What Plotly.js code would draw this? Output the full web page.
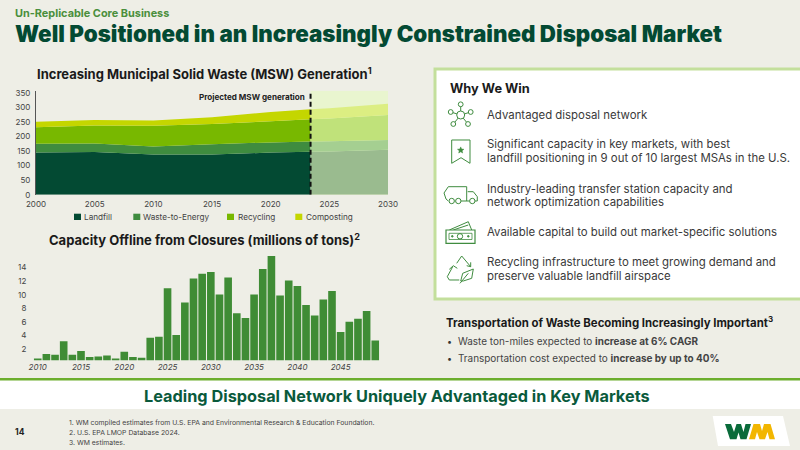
<!DOCTYPE html>
<html><head><meta charset="utf-8">
<script src="https://cdn.plot.ly/plotly-3.0.1.min.js"></script>
<style>html,body{margin:0;padding:0;background:#eeeee6;overflow:hidden}#c{width:800px;height:450px}</style>
</head><body><div id="c"></div>
<script>
const seriesNames=['Landfill','Waste-to-Energy','Recycling','Composting'];
const histYears=[2000,2005,2010,2015,2020,2023.4];
const histLandfill=[145,147,138,138,145,148];
const histEnergy=[30,29,28,36,35,35];
const histRecycling=[57,62,71,69,73,77];
const histComposting=[19,19,18,24,32,34];
const projYears=[2023.4,2025,2030];
const projLandfill=[148,149,155];
const projEnergy=[35,35,33];
const projRecycling=[77,78,86];
const projComposting=[34,36,39];
const closureYears=[2010,2011,2012,2013,2014,2015,2016,2017,2018,2019,2020,2021,2022,2023,2024,2025,2026,2027,2028,2029,2030,2031,2032,2033,2034,2035,2036,2037,2038,2039,2040,2041,2042,2043,2044,2045,2046,2047,2048,2049];
const closureValues=[0.3,0.95,0.85,2.85,0.85,1.4,0.5,0.6,0.75,0.3,1.3,0.5,0.4,3.35,3.5,10.65,3.75,8.55,12.1,12.8,13.05,9.75,12.25,6.95,6.25,9.75,13.5,15.4,9.6,11.8,11,8.2,6.65,9,10.25,4.2,5.7,6.15,7.3,2.95];

const W=800,H=450,F='Inter, sans-serif';
const histColors=['#034a33','#3f8c3f','#78b800','#c4d600'];
const projColors=['#9abb8f','#a5cf91','#c0e27a','#dcee82'];
const GREEN='#3f8c3f';
const px=x=>x/W, py=y=>1-y/H;
const shapes=[],annotations=[];
function rect(x0,y0,x1,y1,fill,line,lw){shapes.push({type:'rect',xref:'paper',yref:'paper',layer:'below',x0:px(x0),x1:px(x1),y0:py(y0),y1:py(y1),fillcolor:fill||'rgba(0,0,0,0)',line:{color:line||'rgba(0,0,0,0)',width:lw||0}});}
function poly(pts,close,color,fill,lw){let d=pts.map((p,i)=>(i?'L':'M')+px(p[0]).toFixed(5)+' '+py(p[1]).toFixed(5)).join(' ')+(close?' Z':'');shapes.push({type:'path',xref:'paper',yref:'paper',path:d,fillcolor:fill||'rgba(0,0,0,0)',line:{color:color||GREEN,width:lw===undefined?1:lw}});}
function circ(cx,cy,r,fill){shapes.push({type:'circle',xref:'paper',yref:'paper',x0:px(cx-r),x1:px(cx+r),y0:py(cy+r),y1:py(cy-r),fillcolor:fill||'rgba(0,0,0,0)',line:{color:GREEN,width:1}});}
function text(x,y,t,size,color,o){o=o||{};annotations.push({xref:'paper',yref:'paper',x:px(x),y:py(y),text:t,showarrow:false,xanchor:o.anchor||'left',yanchor:'middle',borderpad:0,font:{family:o.family||F,size:size,color:color,weight:o.weight||400,style:o.style||'normal'}});}
// zone panels
rect(-5,0,805,450,'#eeeee6');
rect(435,69,806,299,'#ffffff','#c3df9c',3);
rect(-5,380,805,409,'#ffffff');
shapes.push({type:'line',xref:'paper',yref:'paper',layer:'below',x0:0,x1:1,y0:py(379.3),y1:py(379.3),line:{color:'#6cae2d',width:2.5}});
// header
text(13.5,13,'Un-Replicable Core Business',10.9,'#4a8f3c',{weight:700});
text(13.5,33,'Well Positioned in an Increasingly Constrained Disposal Market',22.35,'#034a33',{weight:900});
text(35.5,74,'Increasing Municipal Solid Waste (MSW) Generation<sup>1</sup>',13,'#1a1a1a',{weight:700});
text(47.5,239,'Capacity Offline from Closures (millions of tons)<sup>2</sup>',13,'#1a1a1a',{weight:700});
text(306,97,'Projected MSW generation',8.1,'#222',{weight:700,anchor:'right'});
// legend
[[74,83.3],[133.3,142.3],[227,237],[295.3,305]].forEach((p,i)=>{rect(p[0],213.7,p[0]+7,220,histColors[i]);text(p[1],217,seriesNames[i],8.2,'#444');});
// why we win
text(448.5,88,'Why We Win',12.8,'#1a1a1a',{weight:700});
[[115,'Advantaged disposal network'],[144,'Significant capacity in key markets, with best'],[158,'landfill positioning in 9 out of 10 largest MSAs in the U.S.'],[188.5,'Industry-leading transfer station capacity and'],[202.5,'network optimization capabilities'],[232,'Available capital to build out market-specific solutions'],[262,'Recycling infrastructure to meet growing demand and'],[276,'preserve valuable landfill airspace']].forEach(l=>text(486.2,l[0],l[1],11.4,'#3a3a3a'));
// transportation
text(445,321.7,'Transportation of Waste Becoming Increasingly Important<sup>3</sup>',11.4,'#1a1a1a',{weight:700});
text(445.5,341,'•',9,'#333');text(445.5,358,'•',9,'#333');
text(456.5,341,'Waste ton-miles expected to <b>increase at 6% CAGR</b>',9.95,'#444');
text(456.5,358,'Transportation cost expected to <b>increase by up to 40%</b>',9.95,'#444');
// banner and footer
text(396.5,395.7,'Leading Disposal Network Uniquely Advantaged in Key Markets',16.3,'#0a5a3c',{weight:700,anchor:'center'});
text(14,432,'14',8.5,'#222',{weight:700});
text(67.5,422,'1. WM compiled estimates from U.S. EPA and Environmental Research &amp; Education Foundation.',6.85,'#444');
text(67.5,432.5,'2. U.S. EPA LMOP Database 2024.',6.85,'#444');
text(67.5,442,'3. WM estimates.',6.85,'#444');
// logo
poly([[712.7,416],[783,416],[790,446],[718,446]],true,'#fff','#fff',0);
poly([[725,424],[731,424],[734,432],[736.5,424],[741,424],[743.5,432],[745.5,424],[751,424],[746.5,439.3],[740.5,439.3],[738.5,432.5],[736.5,439.3],[730,439.3]],true,'#0a6b3a','#0a6b3a',0);
poly([[749,439.3],[753.5,424],[760,424],[762,431],[764,424],[770.5,424],[775,439.3],[769.5,439.3],[767.5,432],[765,439.3],[759.5,439.3],[757,432],[755,439.3]],true,'#f2b600','#f2b600',0);
// icons
[[460.7,104.3],[450.7,112],[470.7,112],[453.3,124],[468,124]].forEach(s=>{poly([[460.7,115],s],false);circ(s[0],s[1],2.4,'#fff');});
circ(460.7,115,4,'#fff');
poly([[451.7,140],[470,140],[470,163.3],[461,157.7],[451.7,163.3]],true);
(function(){let p=[];for(let i=0;i<10;i++){let r=i%2?1.5:3.4,a=-Math.PI/2+i*Math.PI/5;p.push([460.7+r*Math.cos(a),150.3+r*Math.sin(a)]);}poly(p,true,GREEN,GREEN,0.5);})();
poly([[448.3,201],[446,199],[444,193],[448.3,186.7],[466.7,186.7],[466.7,201]],false);
poly([[467.7,191.7],[473.3,191.7],[477.3,196.7],[477.3,201],[475,201]],false);
poly([[461,201],[469.6,201]],false);
circ(451.7,201,2.7,'#fff');circ(458.3,201,2.7,'#fff');circ(472.3,201,2.7,'#fff');
poly([[449.3,230],[468.3,221.7],[471.7,230]],false);
poly([[453.3,230],[468.3,225]],false);
poly([[446,230],[475,230],[475,243.3],[446,243.3]],true,GREEN,'#fff',1.2);
poly([[449,233.3],[472,233.3],[472,239.5],[449,239.5]],true,GREEN,'rgba(0,0,0,0)',0.8);
circ(460,236.3,2.7);circ(452.3,236.3,0.8,GREEN);circ(468.3,236.3,0.8,GREEN);
poly([[456.7,263.3],[461.7,256],[470.7,266.7]],false);
poly([[466.7,265.7],[470.7,266.7],[470.7,262.3]],false);
poly([[452.7,266.7],[447.3,276.7],[449.3,280],[459.3,280]],false);
poly([[449.3,269.3],[453.3,265.7],[457.3,268.3]],false);
poly([[460.7,281],[462.7,273.3],[473.3,269],[471.7,278.3],[463.3,281]],true);
poly([[460,283.3],[468.3,273.3]],false);

const traces=[];
[histLandfill,histEnergy,histRecycling,histComposting].forEach((v,i)=>traces.push({type:'scatter',mode:'none',x:histYears,y:v,stackgroup:'hist',fill:'tonexty',fillcolor:histColors[i],name:seriesNames[i],showlegend:false,xaxis:'x',yaxis:'y'}));
[projLandfill,projEnergy,projRecycling,projComposting].forEach((v,i)=>traces.push({type:'scatter',mode:'none',x:projYears,y:v,stackgroup:'proj',fill:'tonexty',fillcolor:projColors[i],name:seriesNames[i]+' (projected)',showlegend:false,xaxis:'x',yaxis:'y'}));
traces.push({type:'bar',x:closureYears,y:closureValues,marker:{color:'#3f8c35'},width:0.88,name:'Capacity offline',showlegend:false,xaxis:'x2',yaxis:'y2'});
// projected headroom band and divider
shapes.unshift({type:'rect',xref:'x',yref:'y',layer:'below',x0:2023.4,x1:2030,y0:0,y1:358,fillcolor:'#e9f5cf',line:{width:0}});
shapes.push({type:'line',xref:'x',yref:'y',x0:2023.4,x1:2023.4,y0:0,y1:358,line:{color:'#111',width:2,dash:'5px,3px'}});
// keep the page panels beneath the chart band
const pagePanels=shapes.splice(1,4);shapes.unshift(...pagePanels);

const tf={family:F,size:8,color:'#444'};
const layout={width:W,height:H,margin:{l:0,r:0,t:0,b:0},paper_bgcolor:'#eeeee6',plot_bgcolor:'rgba(0,0,0,0)',showlegend:false,hovermode:false,
 xaxis:{domain:[px(36),px(388)],range:[2000,2030],tickvals:[2000,2005,2010,2015,2020,2025,2030],showgrid:false,zeroline:false,tickfont:tf,ticks:'',anchor:'y',ticklabelstandoff:3},
 yaxis:{domain:[py(194.7),py(90.7)],range:[0,358],tickvals:[0,50,100,150,200,250,300,350],showgrid:false,zeroline:false,showline:true,linecolor:'#555',linewidth:1,tickfont:tf,ticks:'',anchor:'x',ticklabelshift:-1.5,ticklabelstandoff:3},
 xaxis2:{domain:[px(33.4),px(379.6)],range:[2009.5,2049.5],tickvals:[2010,2015,2020,2025,2030,2035,2040,2045],showgrid:false,zeroline:false,tickfont:{family:F,size:8,color:'#444',style:'italic'},ticks:'',anchor:'y2',ticklabelstandoff:3.5},
 yaxis2:{domain:[py(360.5),py(252)],range:[0,16],tickvals:[2,4,6,8,10,12,14],showgrid:false,zeroline:false,tickfont:tf,ticks:'',anchor:'x2',ticklabelstandoff:6,ticklabelshift:2},
 bargap:0.1,shapes:shapes,annotations:annotations};
Plotly.newPlot('c',traces,layout,{staticPlot:true,displayModeBar:false});
</script></body></html>
